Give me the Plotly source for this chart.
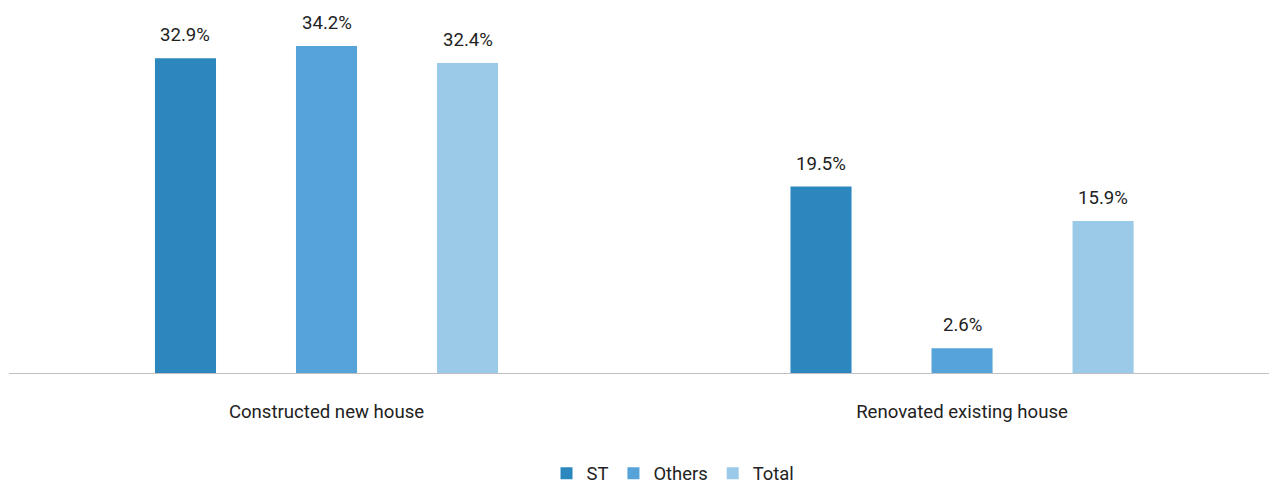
import plotly.graph_objects as go

categories = ["Constructed new house", "Renovated existing house"]
series_names = ["ST", "Others", "Total"]
st_values = [32.9, 19.5]
others_values = [34.2, 2.6]
total_values = [32.4, 15.9]
colors = ["#2C87BF", "#55A3D9", "#9BCAE9"]

values = [st_values, others_values, total_values]
slot = 0.2219  # distance between bar centers inside a group

fig = go.Figure()
for name, vals, col in zip(series_names, values, colors):
    fig.add_trace(go.Bar(
        x=categories, y=vals, name=name, marker_color=col,
        marker_line_width=0, hoverinfo="skip",
    ))

annotations = []
for si, vals in enumerate(values):
    for ci, v in enumerate(vals):
        annotations.append(dict(
            x=ci + (si - 1) * slot, y=v, xref="x", yref="y",
            text=f"{v}%", showarrow=False, yanchor="bottom", yshift=10,
            font=dict(family="Roboto", size=18.6, color="#222222"),
        ))

fig.update_layout(
    width=1269, height=483,
    margin=dict(l=9, r=0, t=0, b=110, autoexpand=False),
    paper_bgcolor="white", plot_bgcolor="white",
    barmode="group", bargap=0.3343, bargroupgap=0.567,
    showlegend=True,
    legend=dict(orientation="h", x=0.527, xanchor="center",
                yref="container", y=0.02, yanchor="middle",
                font=dict(family="Roboto", size=18.4, color="#222222"),
                itemwidth=30, tracegroupgap=0),
    annotations=annotations,
    font=dict(family="Roboto", color="#222222"),
)
fig.update_xaxes(
    range=[-0.4996, 1.483], showline=True, linecolor="#BFBFBF", linewidth=1,
    showgrid=False, ticks="", ticklabelstandoff=22,
    tickfont=dict(family="Roboto", size=18.6, color="#222222"),
)
fig.update_yaxes(range=[0, 39.0], showgrid=False, showticklabels=False,
                 zeroline=False, showline=False)

fig.write_html("out.html")
